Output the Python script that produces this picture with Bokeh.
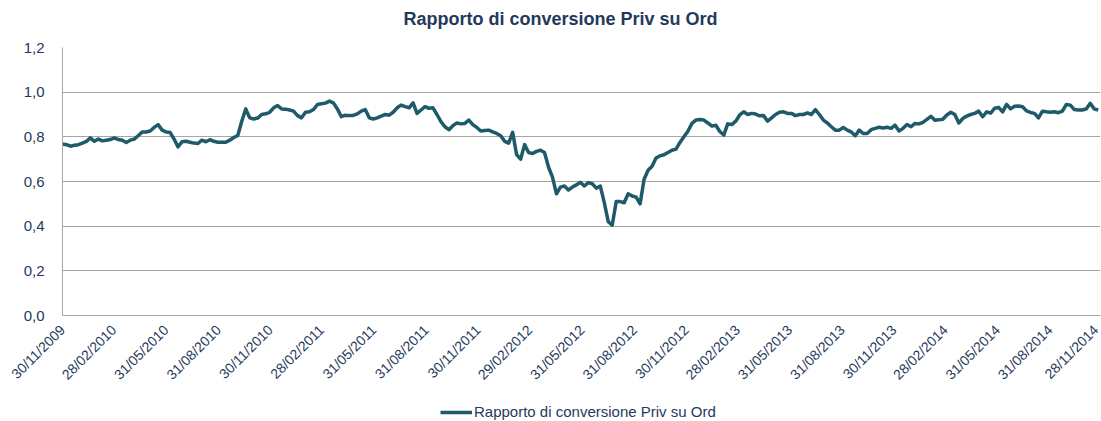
import math
import pandas as pd
from bokeh.plotting import figure
from bokeh.layouts import column
from bokeh.models import (Range1d, FixedTicker, CustomJSTickFormatter, Legend, LegendItem, Label)
from bokeh.embed import file_html
from bokeh.resources import INLINE

# ---- data (weekly readings, starting 30/11/2009) ----
start_date = "2009-11-30"
ratio = [
    0.768, 0.765, 0.758, 0.762, 0.765, 0.772, 0.780, 0.795, 0.780, 0.790,
    0.782, 0.785, 0.788, 0.795, 0.788, 0.785, 0.775, 0.785, 0.790, 0.805,
    0.822, 0.822, 0.826, 0.842, 0.855, 0.830, 0.822, 0.820, 0.790, 0.755,
    0.778, 0.780, 0.776, 0.772, 0.770, 0.785, 0.778, 0.787, 0.780, 0.776,
    0.776, 0.776, 0.785, 0.797, 0.806, 0.870, 0.925, 0.885, 0.880, 0.884,
    0.900, 0.903, 0.910, 0.930, 0.940, 0.925, 0.924, 0.920, 0.915, 0.895,
    0.885, 0.910, 0.912, 0.922, 0.945,
    0.948, 0.951, 0.960, 0.952, 0.925, 0.890, 0.897, 0.895, 0.896, 0.903,
    0.915, 0.922, 0.885, 0.880, 0.885, 0.893, 0.900, 0.897, 0.910, 0.930,
    0.942, 0.935, 0.930, 0.952, 0.905, 0.920, 0.935, 0.928, 0.930, 0.900,
    0.868, 0.845, 0.832, 0.850, 0.862, 0.858, 0.860, 0.875, 0.855, 0.842,
    0.826, 0.828, 0.830, 0.822, 0.815, 0.805, 0.780, 0.772, 0.820, 0.720,
    0.700, 0.765, 0.730, 0.725, 0.735, 0.740, 0.730, 0.665, 0.620, 0.545,
    0.575, 0.580, 0.562, 0.575, 0.585,
    0.596, 0.580, 0.595, 0.590, 0.570, 0.580, 0.505, 0.420, 0.405, 0.510,
    0.510, 0.505, 0.545, 0.535, 0.530, 0.500, 0.610, 0.650, 0.668, 0.705,
    0.715, 0.720, 0.730, 0.740, 0.745, 0.775, 0.800, 0.825, 0.860, 0.875,
    0.878, 0.875, 0.862, 0.848, 0.852, 0.824, 0.808, 0.858, 0.855, 0.870,
    0.898, 0.912, 0.900, 0.905, 0.902, 0.894, 0.895, 0.870, 0.885, 0.900,
    0.910, 0.912, 0.905, 0.905, 0.895, 0.900, 0.900, 0.907, 0.900, 0.922,
    0.900, 0.875, 0.862, 0.845, 0.830,
    0.830, 0.842, 0.830, 0.822, 0.805, 0.830, 0.815, 0.815, 0.832, 0.838,
    0.843, 0.840, 0.843, 0.838, 0.852, 0.826, 0.838, 0.855, 0.845, 0.860,
    0.858, 0.865, 0.878, 0.892, 0.874, 0.876, 0.879, 0.898, 0.910, 0.900,
    0.862, 0.882, 0.893, 0.900, 0.905, 0.915, 0.890, 0.912, 0.906, 0.928,
    0.932, 0.912, 0.945, 0.925, 0.937, 0.938, 0.935, 0.916, 0.909, 0.905,
    0.885, 0.915, 0.912, 0.910, 0.912, 0.908, 0.915, 0.945, 0.942, 0.922,
    0.920, 0.920, 0.925, 0.950, 0.925, 0.920,
]
tick_dates = [
    "2009-11-30", "2010-02-28", "2010-05-31", "2010-08-31", "2010-11-30",
    "2011-02-28", "2011-05-31", "2011-08-31", "2011-11-30", "2012-02-29",
    "2012-05-31", "2012-08-31", "2012-11-30", "2013-02-28", "2013-05-31",
    "2013-08-31", "2013-11-30", "2014-02-28", "2014-05-31", "2014-08-31",
    "2014-11-28",
]
y_ticks = [0.0, 0.2, 0.4, 0.6, 0.8, 1.0, 1.2]
series_name = "Rapporto di conversione Priv su Ord"
title_text = "Rapporto di conversione Priv su Ord"

dates = pd.date_range(start_date, periods=len(ratio), freq="7D")
tick_ms = [pd.Timestamp(d).value // 10**6 for d in tick_dates]

FONT = "Liberation Sans"
NAVY = "#1F3A5C"
LINE = "#1F5A6A"
GRID = "#A6A6A6"
LW = 3.5

TITLE_H = 36
LEG_H = 30
MAIN_H = 421 - TITLE_H - LEG_H
FRAME_TOP = 47
FRAME_BOTTOM = 316

x_rng = Range1d(pd.Timestamp(tick_dates[0]), pd.Timestamp(tick_dates[-1]))

# title strip
tfig = figure(width=1101, height=TITLE_H, output_backend="svg",
              toolbar_location=None, title=None,
              x_axis_location=None, y_axis_location=None,
              x_range=Range1d(0, 1), y_range=Range1d(0, 1), min_border=0)
tfig.outline_line_color = None
tfig.grid.visible = False
tfig.add_layout(Label(x=560 - 62, y=TITLE_H - 18, x_units="screen", y_units="screen",
                      text=title_text, text_align="center", text_baseline="middle",
                      text_font=FONT, text_font_size="18px", text_font_style="bold",
                      text_color=NAVY))

# main chart
p = figure(width=1101, height=MAIN_H, x_axis_type="datetime",
           output_backend="svg", toolbar_location=None, title=None,
           x_range=x_rng, y_range=Range1d(0, 1.2),
           min_border_left=62, min_border_right=1,
           min_border_top=FRAME_TOP - TITLE_H,
           min_border_bottom=MAIN_H - (FRAME_BOTTOM - TITLE_H))
p.outline_line_color = None
p.background_fill_color = "white"
p.border_fill_color = "white"

r = p.line(dates, ratio, line_color=LINE, line_width=LW, line_join="round")

p.yaxis.ticker = FixedTicker(ticks=y_ticks)
p.yaxis.formatter = CustomJSTickFormatter(code="return tick.toFixed(1).replace('.', ',');")
p.yaxis.axis_line_color = GRID
p.yaxis.major_tick_line_color = None
p.yaxis.minor_tick_line_color = None
p.yaxis.major_label_text_font = FONT
p.yaxis.major_label_text_font_size = "15px"
p.yaxis.major_label_text_color = NAVY
p.yaxis.major_label_standoff = 12

p.xaxis.ticker = FixedTicker(ticks=tick_ms)
p.xaxis.formatter = CustomJSTickFormatter(code="""
const d = new Date(tick);
const dd = String(d.getUTCDate()).padStart(2, '0');
const mm = String(d.getUTCMonth() + 1).padStart(2, '0');
return dd + '/' + mm + '/' + d.getUTCFullYear();
""")
p.xaxis.axis_line_color = GRID
p.xaxis.major_tick_line_color = None
p.xaxis.minor_tick_line_color = None
p.xaxis.major_label_orientation = math.pi / 4
p.xaxis.major_label_text_font = FONT
p.xaxis.major_label_text_font_size = "14px"
p.xaxis.major_label_text_color = NAVY
p.xaxis.major_label_standoff = 6

p.xgrid.grid_line_color = None
p.ygrid.ticker = FixedTicker(ticks=y_ticks)
p.ygrid.grid_line_color = GRID
p.ygrid.grid_line_width = 1

# legend strip (the series sits outside its visible range; only the legend shows)
leg = figure(width=1101, height=LEG_H, output_backend="svg",
             x_axis_type="datetime",
             toolbar_location=None, title=None,
             x_axis_location=None, y_axis_location=None,
             x_range=x_rng, y_range=Range1d(5, 6),
             min_border=0)
leg.outline_line_color = None
leg.grid.visible = False
leg_r = leg.line(dates, ratio, line_color=LINE, line_width=LW)
legend = Legend(items=[LegendItem(label=series_name, renderers=[leg_r])],
                location=(378, 1), orientation="vertical",
                label_text_font=FONT, label_text_font_size="15px",
                label_text_color=NAVY, glyph_width=32, glyph_height=16,
                label_height=16, padding=0, margin=0, spacing=0,
                label_standoff=2, border_line_color=None,
                background_fill_alpha=0)
leg.add_layout(legend, "center")

layout = column(tfig, p, leg, spacing=0)
open("out.html", "w").write(file_html(layout, INLINE))
